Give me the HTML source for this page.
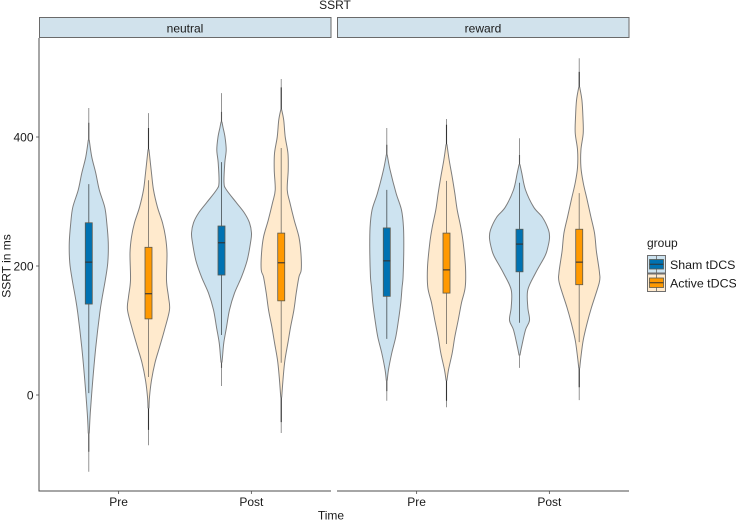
<!DOCTYPE html>
<html>
<head>
<meta charset="utf-8">
<title>SSRT</title>
<style>
html,body{margin:0;padding:0;background:#fff;width:736px;height:522px;overflow:hidden}
svg{display:block}
text{font-family:"Liberation Sans",sans-serif;fill:#1a1a1a;font-size:12px}
</style>
</head>
<body>
<svg id="chart" width="736" height="522" viewBox="0 0 736 522" xmlns="http://www.w3.org/2000/svg"></svg>
<script>
const panels = ['neutral', 'reward'];
const times = ['Pre', 'Post'];
const groups = ['Sham tDCS', 'Active tDCS'];
const yTicks = [0, 200, 400];

// violins order: neutral Pre Sham, neutral Pre Active, neutral Post Sham, neutral Post Active, then reward
const levelsNeutralPreSham = [395,369,344,318,291,267,236,205,178,152,127,74,23,-28,-59];
const densityNeutralPreSham = [0.5,3,7,10.5,16,18,19.5,19,16.5,13.5,11,7,4,1.5,0.5];
const levelsNeutralPreActive = [380,344,318,291,267,245,220,178,152,132,101,74,50,23,-3,-20];
const densityNeutralPreActive = [0.5,3,5,9,14,17,18.5,18,20,21,16,11,6.5,3,1,0.5];
const levelsNeutralPostSham = [423,415,400,380,360,329,318,298,282,267,251,236,209,183,158,132,105,81,59,51];
const densityNeutralPostSham = [0.5,1.5,3.5,4.7,3.3,2.5,5,15,23,28,30,29,25.7,20,13,8,5,2.3,1,0.5];
const levelsNeutralPostActive = [442,426,400,375,349,318,298,271,245,220,194,183,158,132,105,81,54,28,-3];
const densityNeutralPostActive = [0.5,2.5,4,6.7,7,6,8.7,13,17.7,19.7,20,17.7,15,12.7,9.3,6.7,3.7,2,0.5];
const levelsRewardPreSham = [372,349,313,287,260,225,183,167,143,116,90,65,39,23];
const densityRewardPreSham = [0.5,3.3,9.3,14.7,16.7,17,16.3,15.3,14,11.7,9,5,1.7,0.5];
const levelsRewardPreActive = [388,364,338,313,287,260,236,198,167,143,116,90,65,39,23];
const densityRewardPreActive = [0.5,2.7,5.7,8.3,10.7,14.3,16.7,19,18.7,15,11.7,8.3,5.7,2,0.5];
const levelsRewardPostSham = [357,344,318,291,276,256,243,225,214,189,163,136,116,101,74,62];
const densityRewardPostSham = [0.5,2.3,6,14.3,22.7,29,30,27.7,25,16,8.3,8.3,10,6,2,0.5];
const levelsRewardPostActive = [477,457,431,406,380,353,329,302,276,251,225,214,189,174,136,112,85,59,42];
const densityRewardPostActive = [0.5,2.7,3.7,4,1.7,1.7,4,8,11.7,15.3,17,18,20.3,20,12.3,8,4,1.7,0.5];

const boxQ3 = [267,229,262,251,259,251,257,257];
const boxMedian = [206,157,236,205,208,194,234,206];
const boxQ1 = [141,118,186,146,153,158,191,171];
const whiskerHigh = [327,333,361,383,318,332,329,313];
const whiskerLow = [3,28,93,50,87,79,112,82];
const rangeHigh = [445,437,468,490,414,428,398,522];
const rangeLow = [-119,-78,14,-59,-9,-19,42,-8];
const tailHigh = [422,414,439,477,388,419,372,501];
const tailLow = [-88,-54,42,-42,6,-9,62,12];

const allLevels = [levelsNeutralPreSham, levelsNeutralPreActive, levelsNeutralPostSham, levelsNeutralPostActive, levelsRewardPreSham, levelsRewardPreActive, levelsRewardPostSham, levelsRewardPostActive];
const allDensity = [densityNeutralPreSham, densityNeutralPreActive, densityNeutralPostSham, densityNeutralPostActive, densityRewardPreSham, densityRewardPreActive, densityRewardPostSham, densityRewardPostActive];

const NS = 'http://www.w3.org/2000/svg';
const svg = document.getElementById('chart');
const panelLeft = [39, 337];
const panelWidth = 292;
const panelTop = 38;
const panelBottom = 491;
const unit = panelWidth / 2.2;
const fillLight = ['#cde3f0', '#ffeacd'];
const fillBox = ['#0072b2', '#ff9900'];
const whiskerColor = ['#5f6a70', '#8c8478'];
const tailColor = ['#555555', '#333333'];
const boxWidth = 7;

function yScale(v) { return 395 - v * 0.645; }
function xCenter(p, t) { return panelLeft[p] + (t + 0.6) * unit; }
function xDodge(p, t, g) { return xCenter(p, t) + (g === 0 ? -0.225 : 0.225) * unit; }

function make(tag, attrs, parent) {
  const el = document.createElementNS(NS, tag);
  for (const k in attrs) el.setAttribute(k, attrs[k]);
  (parent || svg).appendChild(el);
  return el;
}
function smooth(pts) {
  let d = '';
  for (let i = 0; i < pts.length - 1; i++) {
    const p0 = pts[Math.max(i - 1, 0)], p1 = pts[i], p2 = pts[i + 1], p3 = pts[Math.min(i + 2, pts.length - 1)];
    const c1x = p1[0] + (p2[0] - p0[0]) / 6, c1y = p1[1] + (p2[1] - p0[1]) / 6;
    const c2x = p2[0] - (p3[0] - p1[0]) / 6, c2y = p2[1] - (p3[1] - p1[1]) / 6;
    d += 'C' + c1x.toFixed(2) + ' ' + c1y.toFixed(2) + ' ' + c2x.toFixed(2) + ' ' + c2y.toFixed(2) + ' ' + p2[0].toFixed(2) + ' ' + p2[1].toFixed(2);
  }
  return d;
}

// title
const title = make('text', {x: 335, y: 9, 'text-anchor': 'middle'});
title.textContent = 'SSRT';



panels.forEach(function (name, p) {
  const strip = make('rect', {x: panelLeft[p] + 0.5, y: 17.5, width: panelWidth - 0.5, height: 20, fill: '#d1e2ec', stroke: '#6a6a6a', 'stroke-width': 1});
  
  
  const label = make('text', {x: panelLeft[p] + panelWidth / 2, y: 32.5, 'text-anchor': 'middle'});
  label.textContent = name;
  
  

  const axisX = make('line', {x1: panelLeft[p], x2: panelLeft[p] + panelWidth, y1: panelBottom, y2: panelBottom, stroke: '#4d4d4d', 'stroke-width': 1});
  
  

  times.forEach(function (time, t) {
    const tick = make('line', {x1: xCenter(p, t), x2: xCenter(p, t), y1: panelBottom, y2: panelBottom + 3, stroke: '#4d4d4d', 'stroke-width': 0.8});
    
    
    const tl = make('text', {x: xCenter(p, t), y: 506, 'text-anchor': 'middle'});
    tl.textContent = time;
    
    
  });
});

// y axis
const axisY = make('line', {x1: 39, x2: 39, y1: panelTop, y2: panelBottom + 0.5, stroke: '#4d4d4d', 'stroke-width': 1});


yTicks.forEach(function (v) {
  const tick = make('line', {x1: 36, x2: 39, y1: yScale(v), y2: yScale(v), stroke: '#4d4d4d', 'stroke-width': 0.8});
  
  
  const tl = make('text', {x: 33.5, y: yScale(v) + 4.3, 'text-anchor': 'end'});
  tl.textContent = String(v);
  
  
});

const xTitle = make('text', {x: 331, y: 519.5, 'text-anchor': 'middle'});
xTitle.textContent = 'Time';


const yTitle = make('text', {x: 0, y: 0, 'text-anchor': 'middle', transform: 'translate(10.5 266) rotate(-90)'});
yTitle.textContent = 'SSRT in ms';



// violins
allLevels.forEach(function (levels, i) {
  const p = Math.floor(i / 4), t = Math.floor(i / 2) % 2, g = i % 2;
  const cx = xDodge(p, t, g);
  const density = allDensity[i];
  const id = panels[p] + '-' + times[t] + '-' + groups[g].split(' ')[0];

  const range = make('line', {x1: cx, x2: cx, y1: yScale(rangeHigh[i]), y2: yScale(rangeLow[i]), stroke: '#8a8a8a', 'stroke-width': 0.9});
  
  
  const tail = make('line', {x1: cx, x2: cx, y1: yScale(tailHigh[i]), y2: yScale(tailLow[i]), stroke: tailColor[g], 'stroke-width': 1.1});
  
  

  const left = levels.map(function (v, k) { return [cx - density[k], yScale(v)]; });
  const right = levels.map(function (v, k) { return [cx + density[k], yScale(v)]; }).reverse();
  const d = 'M' + left[0][0].toFixed(2) + ' ' + left[0][1].toFixed(2) + smooth(left) + 'L' + right[0][0].toFixed(2) + ' ' + right[0][1].toFixed(2) + smooth(right) + 'Z';
  const violin = make('path', {d: d, fill: fillLight[g], stroke: '#7d7d7d', 'stroke-width': 1});
  
  

  const whisk = make('line', {x1: cx, x2: cx, y1: yScale(whiskerHigh[i]), y2: yScale(whiskerLow[i]), stroke: whiskerColor[g], 'stroke-width': 1});
  
  
  const box = make('rect', {x: cx - boxWidth / 2, y: yScale(boxQ3[i]), width: boxWidth, height: yScale(boxQ1[i]) - yScale(boxQ3[i]), fill: fillBox[g], stroke: '#5a5a50', 'stroke-width': 0.8});
  
  
  const med = make('line', {x1: cx - boxWidth / 2, x2: cx + boxWidth / 2, y1: yScale(boxMedian[i]), y2: yScale(boxMedian[i]), stroke: '#333333', 'stroke-width': 1.1});
  
  
});

// legend
const legendTitle = make('text', {x: 647, y: 247});
legendTitle.textContent = 'group';


groups.forEach(function (name, g) {
  const top = 255.5 + g * 18.5;
  const slug = name.split(' ')[0].toLowerCase();
  const key = make('rect', {x: 647.5, y: top, width: 18, height: 17.5, fill: fillLight[g], stroke: '#6e6e6e', 'stroke-width': 1});
  
  
  const whisk = make('line', {x1: 656.5, x2: 656.5, y1: top, y2: top + 17.5, stroke: '#666666', 'stroke-width': 0.8});
  
  
  const box = make('rect', {x: 649.5, y: top + 4, width: 14, height: 9.5, fill: fillBox[g], stroke: '#5a5a50', 'stroke-width': 0.8});
  
  
  const med = make('line', {x1: 649.5, x2: 663.5, y1: top + 8.75, y2: top + 8.75, stroke: '#333333', 'stroke-width': 1});
  
  
  const label = make('text', {x: 670, y: top + 13.5, style: 'font-size:12.4px'});
  label.textContent = name;
  
  
});
</script>
</body>
</html>
